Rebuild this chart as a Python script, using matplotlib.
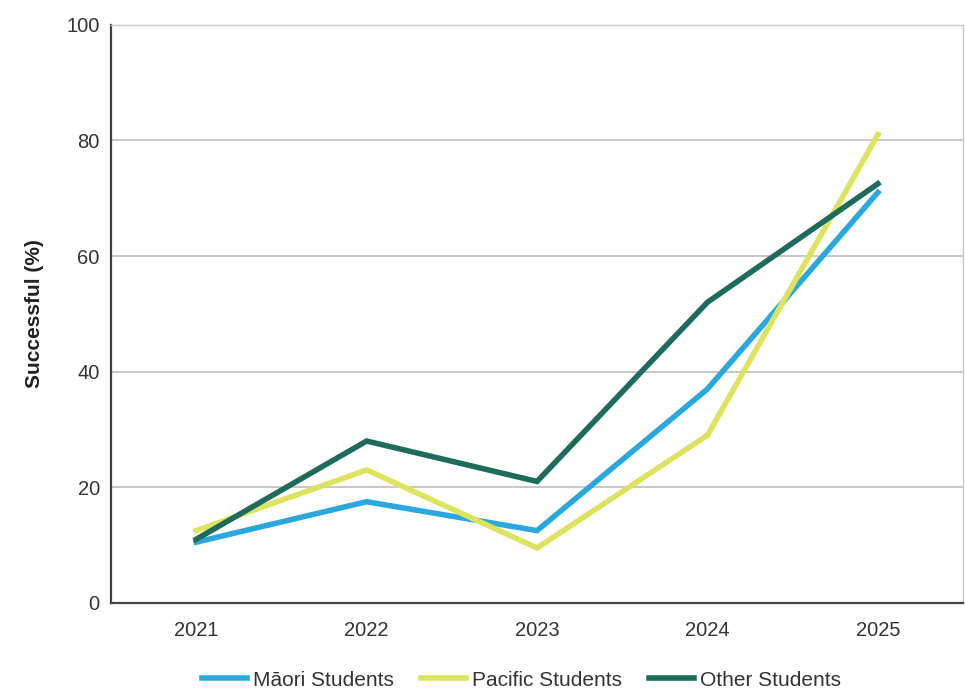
import matplotlib.pyplot as plt
import numpy as np

plt.rcParams['font.family'] = ['Liberation Sans', 'DejaVu Sans']

# values
years = ["2021", "2022", "2023", "2024", "2025"]
maori = [10.5, 17.5, 12.5, 37, 71]
pacific = [12.5, 23, 9.5, 29, 81]
other = [11, 28, 21, 52, 72.5]

series_names = ["Māori Students", "Pacific Students", "Other Students"]
colors = ["#2aa8de", "#dce35f", "#1e6b5c"]

fig = plt.figure(figsize=(9.65, 6.89), dpi=100)
ax = fig.add_axes([0.115, 0.125, 0.883, 0.839])

x = np.arange(len(years))
for vals, name, col in zip([maori, pacific, other], series_names, colors):
    ax.plot(x, vals, color=col, lw=4, label=name, solid_joinstyle="miter")

ax.set_xlim(-0.5, 4.5)
ax.set_ylim(0, 100)
ax.set_yticks([0, 20, 40, 60, 80, 100])
ax.set_xticks(x)
ax.set_xticklabels(years)
ax.yaxis.grid(True, color="#bdbdbd", lw=1.2)
ax.set_axisbelow(True)
ax.tick_params(length=0, labelsize=14.5, labelcolor="#333333", pad=8)
ax.tick_params(axis="x", pad=13)

for side in ["top", "right"]:
    ax.spines[side].set_color("#c8c8c8")
    ax.spines[side].set_linewidth(1.0)
for side in ["left", "bottom"]:
    ax.spines[side].set_color("#444444")
    ax.spines[side].set_linewidth(1.6)

ax.set_ylabel("Successful (%)", fontsize=15, fontweight="bold", color="#222222", labelpad=16)

fig.legend(loc="lower center", bbox_to_anchor=(0.54, -0.028), ncol=3, frameon=False,
           fontsize=15, handlelength=2.2, handletextpad=0.25, columnspacing=1.3,
           labelcolor="#333333")

fig.savefig("out.png", dpi=100)
